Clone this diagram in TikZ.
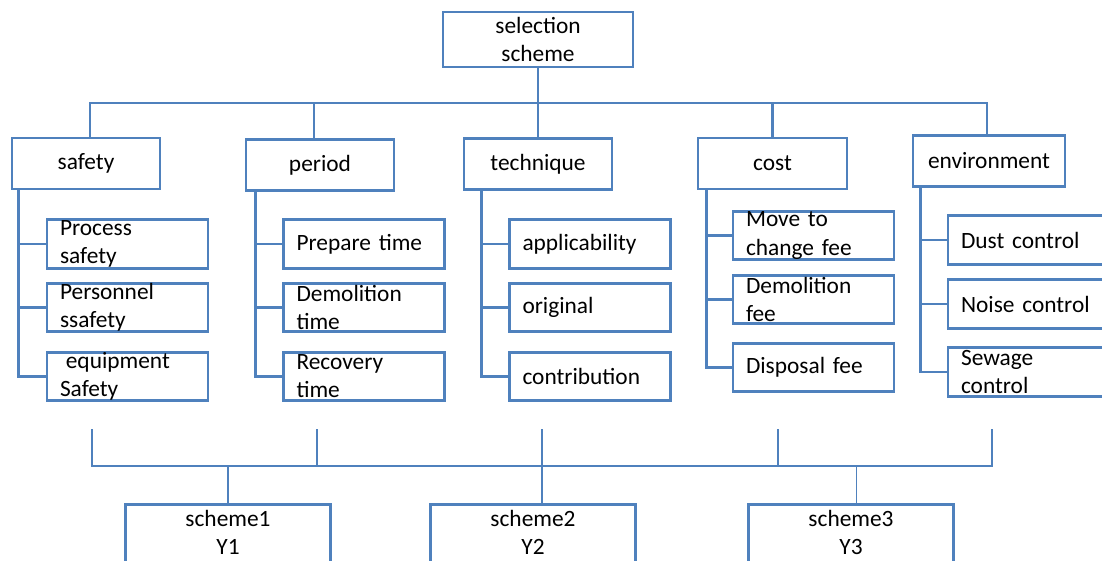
\documentclass[tikz,border=0pt]{standalone}
\usepackage{fontspec}
\setmainfont{Carlito}
\usepackage{tikz}
\definecolor{lineblue}{HTML}{4F81BD}

\begin{document}
\begin{tikzpicture}[x=0.02cm, y=-0.02cm,
        font=\fontsize{13.3}{16}\selectfont,
        box/.style={draw=lineblue, line width=1.6pt, rectangle, inner sep=0pt},
        head/.style={box, minimum width=2.96cm, minimum height=1.02cm, align=center},
        item/.style={box, minimum width=3.22cm, minimum height=0.97cm, text width=2.7cm, inner xsep=0.26cm, align=left},
        result/.style={box, minimum width=4.1cm, minimum height=1.52cm, text depth=0.4cm, align=center, anchor=north},
        link/.style={draw=lineblue, line width=1.6pt},
        branch/.style={draw=lineblue, line width=1.3pt},
        thin/.style={draw=lineblue, line width=0.75pt}]
        \useasboundingbox (0,0) rectangle (1102,561);

        \node (scheme) [box, minimum width=3.8cm, minimum height=1.1cm, align=center] at (538,39.5) {selection\\scheme};

        \node (safety) [head] at (86,163.5) {safety};
        \node (period) [head] at (320,165) {period};
        \node (technique) [head] at (538,164) {technique};
        \node (cost) [head, minimum width=2.98cm] at (772.5,163.5) {cost};
        \node (environment) [head, minimum width=3.04cm] at (989,161) {environment};

        \node (process) [item] at (127.5,244) {Process\\safety};
        \node (personnel) [item] at (127.5,307.5) {Personnel\\ssafety};
        \node (equipment) [item] at (127.5,376.5) {\hspace{0.25em}equipment\\Safety};
        \node (prepare) [item] at (364,244) {Prepare time};
        \node (demotime) [item] at (364,307.5) {Demolition\\time};
        \node (recovery) [item] at (364,376.5) {Recovery\\time};
        \node (applic) [item] at (590,244) {applicability};
        \node (original) [item] at (590,307.5) {original};
        \node (contrib) [item] at (590,376.5) {contribution};
        \node (movefee) [item] at (813.5,235.5) {Move to\\change fee};
        \node (demofee) [item] at (813.5,299.5) {Demolition\\fee};
        \node (disposal) [item] at (813.5,367.5) {Disposal fee};
        \node (dust) [item] at (1028.5,240) {Dust control};
        \node (noise) [item] at (1028.5,304) {Noise control};
        \node (sewage) [item] at (1028.5,372) {Sewage\\control};

        \node (scheme1) [result] at (228,503) {scheme1\\Y1};
        \node (scheme2) [result] at (533,503) {scheme2\\Y2};
        \node (scheme3) [result] at (851,503) {scheme3\\Y3};

        \coordinate (topbus) at (538,103);
        \draw[link] (scheme) -- (topbus);
        \draw[link] (topbus) -| ([xshift=0.08cm]safety.north);
        \draw[link] (topbus) -| ([xshift=-0.12cm]period.north);
        \draw[link] (topbus) -- (technique.north);
        \draw[link] (topbus) -| (cost.north);
        \draw[link] (topbus) -| ([xshift=-0.04cm]environment.north);

        \draw[branch] ([xshift=0.16cm]safety.south west) |- (process.west);
        \draw[branch] ([xshift=0.16cm]safety.south west) |- (personnel.west);
        \draw[branch] ([xshift=0.16cm]safety.south west) |- (equipment.west);
        \draw[branch] ([xshift=0.22cm]period.south west) |- (prepare.west);
        \draw[branch] ([xshift=0.22cm]period.south west) |- (demotime.west);
        \draw[branch] ([xshift=0.22cm]period.south west) |- (recovery.west);
        \draw[branch] ([xshift=0.38cm]technique.south west) |- (applic.west);
        \draw[branch] ([xshift=0.38cm]technique.south west) |- (original.west);
        \draw[branch] ([xshift=0.38cm]technique.south west) |- (contrib.west);
        \draw[branch] ([xshift=0.2cm]cost.south west) |- (movefee.west);
        \draw[branch] ([xshift=0.2cm]cost.south west) |- (demofee.west);
        \draw[branch] ([xshift=0.2cm]cost.south west) |- (disposal.west);
        \draw[branch] ([xshift=0.18cm]environment.south west) |- (dust.west);
        \draw[branch] ([xshift=0.18cm]environment.south west) |- (noise.west);
        \draw[branch] ([xshift=0.18cm]environment.south west) |- (sewage.west);

        \coordinate (low1) at (92,429);
        \coordinate (low2) at (317,429);
        \coordinate (low3) at (542,429);
        \coordinate (low4) at (778,429);
        \coordinate (low5) at (992,429);
        \coordinate (bus1) at (92,466);
        \coordinate (bus5) at (992,466);
        \draw[thin] (low1) -- (bus1) -- (bus5) -- (low5);
        \draw[thin] (low2) -- (low2 |- bus1);
        \draw[thin] (low4) -- (low4 |- bus1);
        \draw[thin] (low3) -- (low3 |- scheme2.north);
        \draw[thin] (scheme1.north |- bus1) -- (scheme1.north);
        \draw[thin] ([xshift=0.11cm]scheme3.north |- bus1) -- ([xshift=0.11cm]scheme3.north);
    \end{tikzpicture}
\end{document}
